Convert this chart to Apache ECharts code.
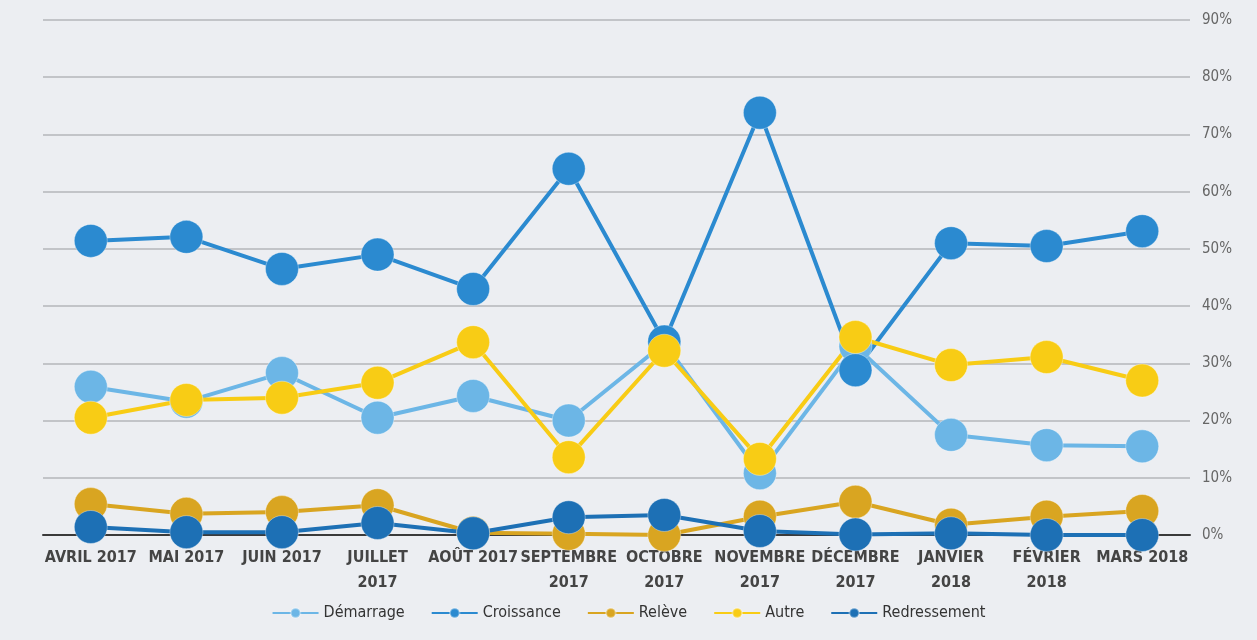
<!DOCTYPE html>
<html>
<head>
<meta charset="utf-8">
<script src="https://cdn.jsdelivr.net/npm/echarts@6/dist/echarts.min.js"></script>
<style>
html,body{margin:0;padding:0;background:#eceef2;}
#c{width:1257px;height:640px;}
</style>
</head>
<body>
<div id="c"></div>
<script>
var categories = ['AVRIL 2017','MAI 2017','JUIN 2017','JUILLET\n2017','AOÛT 2017','SEPTEMBRE\n2017','OCTOBRE\n2017','NOVEMBRE\n2017','DÉCEMBRE\n2017','JANVIER\n2018','FÉVRIER\n2018','MARS 2018'];
var demarrage    = [25.9, 23.3, 28.3, 20.5, 24.3, 20.0, 33.5, 10.8, 33.0, 17.5, 15.7, 15.5];
var croissance   = [51.4, 52.1, 46.5, 49.0, 43.0, 64.0, 33.8, 73.8, 28.8, 51.0, 50.5, 53.1];
var releve       = [5.4, 3.7, 4.0, 5.2, 0.4, 0.2, 0.0, 3.2, 5.8, 1.8, 3.2, 4.2];
var autre        = [20.5, 23.6, 24.0, 26.6, 33.7, 13.6, 32.2, 13.3, 34.6, 29.7, 31.1, 27.0];
var redressement = [1.4, 0.5, 0.5, 2.1, 0.3, 3.1, 3.5, 0.7, 0.1, 0.3, 0.0, 0.0];
var yTicks = {min: 0, max: 90, interval: 10};

var colors = {
  'Démarrage': '#6cb6e6',
  'Croissance': '#2b8ad0',
  'Relève': '#d9a521',
  'Autre': '#f8cc15',
  'Redressement': '#1d70b5'
};
var condensed = 'DejaVu Sans Condensed, Liberation Sans Narrow, Liberation Sans, sans-serif';
function mk(name, data){
  return {
    name: name, type: 'line', data: data,
    symbol: 'circle', symbolSize: 33,
    lineStyle: {width: 4, color: colors[name]},
    itemStyle: {color: colors[name], borderColor: 'rgba(255,255,255,0.35)', borderWidth: 1},
    emphasis: {disabled: true}
  };
}
var chart = echarts.init(document.getElementById('c'));
chart.setOption({
  backgroundColor: '#eceef2',
  animation: false,
  color: [colors['Démarrage'], colors['Croissance'], colors['Relève'], colors['Autre'], colors['Redressement']],
  grid: {left: 43, right: 67, top: 20, bottom: 105, containLabel: false},
  legend: {
    bottom: 14, left: 'center', itemWidth: 46, itemHeight: 12, itemGap: 26,
    textStyle: {fontFamily: condensed, fontSize: 16, color: '#333'},
    data: ['Démarrage','Croissance','Relève','Autre','Redressement']
  },
  xAxis: {
    type: 'category', data: categories, boundaryGap: true,
    axisLine: {lineStyle: {color: '#3a3a3a', width: 2}},
    axisTick: {show: false},
    axisLabel: {
      interval: 0, color: '#444', fontSize: 16, fontWeight: 'bold', lineHeight: 25,
      fontFamily: condensed, margin: 10
    }
  },
  yAxis: {
    type: 'value', position: 'right', min: yTicks.min, max: yTicks.max, interval: yTicks.interval,
    axisLine: {show: false}, axisTick: {show: false},
    splitLine: {lineStyle: {color: '#b4b6ba', width: 1.5}},
    axisLabel: {formatter: '{value}%', color: '#666', fontSize: 15, margin: 12,
      fontFamily: condensed}
  },
  series: [
    mk('Démarrage', demarrage),
    mk('Croissance', croissance),
    mk('Relève', releve),
    mk('Autre', autre),
    mk('Redressement', redressement)
  ]
});
</script>
</body>
</html>
